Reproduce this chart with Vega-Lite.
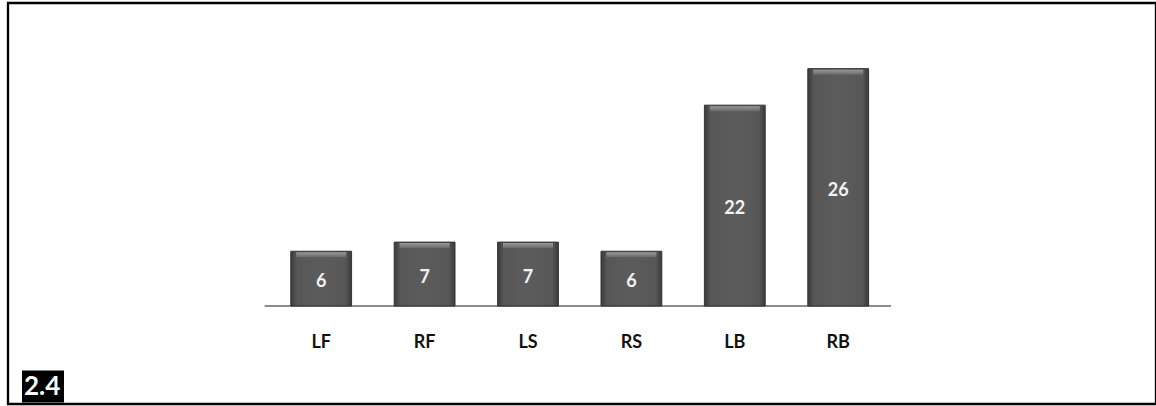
{
  "$schema": "https://vega.github.io/schema/vega-lite/v6.json",
  "width": 1148,
  "height": 401,
  "autosize": {"type": "none"},
  "padding": {"left": 8, "top": 3, "right": 0, "bottom": 2},
  "background": "white",
  "config": {
    "view": {"stroke": "black", "strokeWidth": 2.3},
    "font": "Lato"
  },
  "data": {
    "values": [
      {"pos": "LF", "v": 6},
      {"pos": "RF", "v": 7},
      {"pos": "LS", "v": 7},
      {"pos": "RS", "v": 6},
      {"pos": "LB", "v": 22},
      {"pos": "RB", "v": 26}
    ]
  },
  "resolve": {"scale": {"y": "independent"}},
  "encoding": {
    "x": {
      "field": "pos",
      "type": "nominal",
      "sort": null,
      "scale": {
        "domain": ["LF", "RF", "LS", "RS", "LB", "RB"],
        "range": [258.7, 884.7],
        "paddingInner": 0.412,
        "paddingOuter": 0.233
      },
      "axis": {
        "title": null,
        "orient": "bottom",
        "offset": -62,
        "domain": false,
        "ticks": false,
        "labelPadding": 0,
        "labelBaseline": "middle",
        "labelAngle": 0,
        "labelFont": "Lato",
        "labelFontSize": 18,
        "labelFontWeight": "bold",
        "labelColor": "#111111"
      }
    }
  },
  "layer": [
    {
      "mark": {
        "type": "rule",
        "color": "#8c8c8c",
        "strokeWidth": 1.6
      },
      "encoding": {
        "x": {"datum": "LF", "bandPosition": -0.426},
        "x2": {"datum": "RB", "bandPosition": 1.367},
        "y": {"datum": 0, "type": "quantitative", "scale": {"domain": [-10.73, 33.19], "nice": false, "zero": false}, "axis": null}
      }
    },
    {
      "mark": {
        "type": "bar",
        "stroke": "#333333",
        "strokeWidth": 1,
        "color": {
          "gradient": "linear",
          "x1": 0, "y1": 0, "x2": 1, "y2": 0,
          "stops": [
            {"offset": 0, "color": "#3a3a3a"},
            {"offset": 0.1, "color": "#575757"},
            {"offset": 0.5, "color": "#5c5c5c"},
            {"offset": 0.9, "color": "#575757"},
            {"offset": 1, "color": "#3a3a3a"}
          ]
        }
      },
      "encoding": {
        "y": {"field": "v", "type": "quantitative", "scale": {"domain": [-10.73, 33.19], "nice": false, "zero": false}, "axis": null},
        "y2": {"datum": 0}
      }
    },
    {
      "mark": {
        "type": "tick",
        "thickness": 5,
        "size": 50,
        "yOffset": 3.5,
        "color": {
          "gradient": "linear",
          "x1": 0, "y1": 0, "x2": 0, "y2": 1,
          "stops": [
            {"offset": 0, "color": "#a0a0a0"},
            {"offset": 1, "color": "#6a6a6a"}
          ]
        },
        "opacity": 0.9
      },
      "encoding": {
        "y": {"field": "v", "type": "quantitative", "scale": {"domain": [-10.73, 33.19], "nice": false, "zero": false}, "axis": null}
      }
    },
    {
      "mark": {
        "type": "text",
        "color": "#f2f2f2",
        "font": "Lato",
        "fontSize": 18,
        "fontWeight": "bold",
        "baseline": "middle",
        "dy": 3.5
      },
      "encoding": {
        "y": {"field": "v", "type": "quantitative", "scale": {"domain": [-21.46, 66.38], "nice": false, "zero": false}, "axis": null},
        "text": {"field": "v", "type": "quantitative"},
        "opacity": {
          "datum": "2.4",
          "type": "nominal",
          "scale": {"range": [1]},
          "legend": {
            "orient": "none",
            "legendX": 14,
            "legendY": 367.5,
            "title": null,
            "fillColor": "black",
            "padding": 3,
            "symbolType": "circle",
            "symbolSize": 0,
            "symbolStrokeWidth": 0,
            "labelOffset": -27,
            "labelColor": "white",
            "labelFont": "Lato",
            "labelFontSize": 26,
            "labelFontWeight": "bold"
          }
        }
      }
    }
  ]
}
